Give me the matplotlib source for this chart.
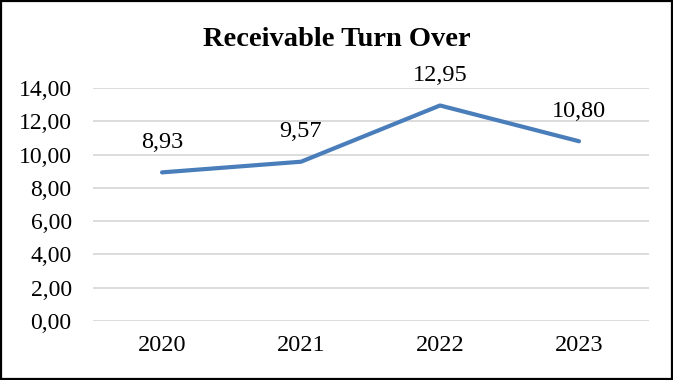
import matplotlib.pyplot as plt
from matplotlib.patches import Rectangle

years = ["2020", "2021", "2022", "2023"]
turnover = [8.93, 9.57, 12.95, 10.80]
yticks = [0, 2, 4, 6, 8, 10, 12, 14]

plt.rcParams['font.family'] = ['Liberation Serif', 'DejaVu Serif']

fig = plt.figure(figsize=(6.73, 3.80), dpi=100)
ax = fig.add_axes([0.1375, 0.1553, 0.8261, 0.6131])

x = range(len(years))
ax.plot(x, turnover, color='#4A7EBB', lw=3.0, solid_capstyle='round')
for xi, v in zip(x, turnover):
    ax.annotate(f"{v:.2f}".replace('.', ','), (xi, v), xytext=(0, 14),
                textcoords='offset points', ha='center', va='bottom', fontsize=17.5)

ax.set_xlim(-0.5, len(years) - 0.5)
ax.set_ylim(0, 14)
ax.set_xticks(list(x))
ax.set_xticklabels(years, fontsize=17.5)
ax.set_yticks(yticks)
ax.set_yticklabels([f"{t:.2f}".replace('.', ',') for t in yticks], fontsize=17)
ax.tick_params(length=0)
ax.tick_params(axis='y', pad=15)
ax.tick_params(axis='x', pad=10)
ax.grid(axis='y', color='#D9D9D9', lw=1.3)
ax.set_axisbelow(True)
for s in ax.spines.values():
    s.set_visible(False)

fig.text(0.5, 0.895, "Receivable Turn Over", ha='center', va='center',
         fontsize=20.5, fontweight='bold')
fig.patches.append(Rectangle((0.002, 0.003), 0.996, 0.994, transform=fig.transFigure,
                             fill=False, ec='black', lw=1.6))

fig.savefig("out.png", dpi=100)
